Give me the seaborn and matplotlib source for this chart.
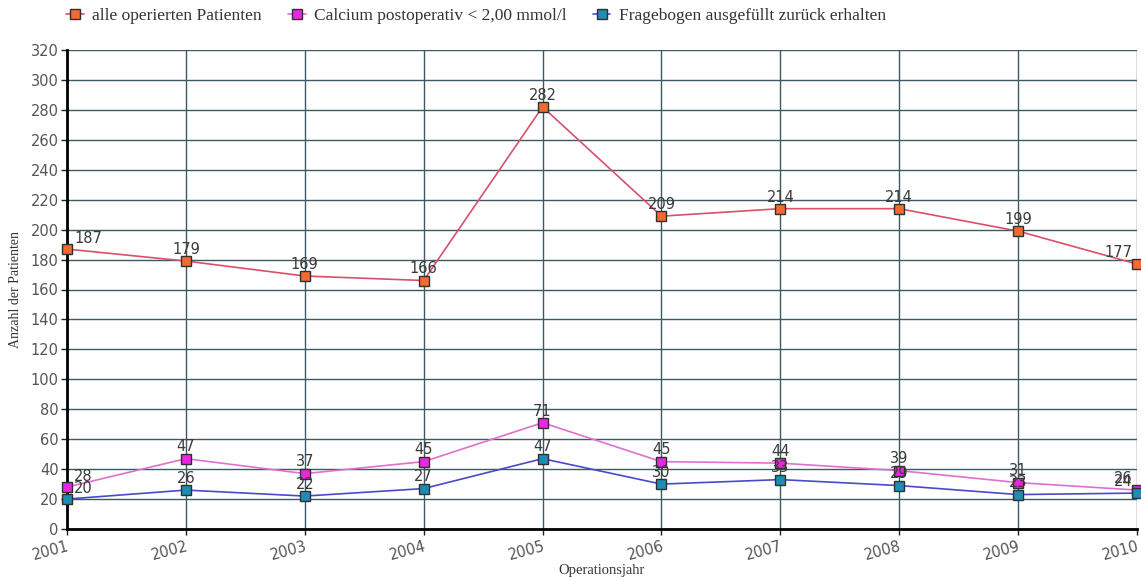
import matplotlib
matplotlib.use("Agg")
import matplotlib.pyplot as plt
import matplotlib.transforms as mtransforms
import seaborn as sns
import pandas as pd

years = [2001, 2002, 2003, 2004, 2005, 2006, 2007, 2008, 2009, 2010]
alle_operierten = [187, 179, 169, 166, 282, 209, 214, 214, 199, 177]
calcium_niedrig = [28, 47, 37, 45, 71, 45, 44, 39, 31, 26]
fragebogen = [20, 26, 22, 27, 47, 30, 33, 29, 23, 24]

series_names = [
    "alle operierten Patienten",
    "Calcium postoperativ < 2,00 mmol/l",
    "Fragebogen ausgefüllt zurück erhalten",
]
series_values = [alle_operierten, calcium_niedrig, fragebogen]
line_colors = ["#d8506a", "#e070d0", "#4a4ac8"]
marker_colors = ["#f06a32", "#e628e0", "#1e8cb4"]

sns.set_theme(style="white")
plt.rcParams["font.family"] = ["DejaVu Sans"]

fig = plt.figure(figsize=(11.41, 5.8), dpi=100)
ax = fig.add_axes([67 / 1141, 1 - 529 / 580, (1137 - 67) / 1141, (529 - 50) / 580])

for name, vals, lc, mc in zip(series_names, series_values, line_colors, marker_colors):
    df = pd.DataFrame({"Jahr": years, "Anzahl": vals})
    sns.lineplot(data=df, x="Jahr", y="Anzahl", ax=ax, color=lc, linewidth=1.2,
                 marker="s", markersize=7, markerfacecolor=mc,
                 markeredgecolor="#303030", markeredgewidth=1.0, label=name,
                 zorder=3, clip_on=False)

# value labels above each point
for vals in series_values:
    for x, v in zip(years, vals):
        if x == years[0]:
            xy, ha = (5, 2), "left"
        elif x == years[-1]:
            xy, ha = (-3, 3), "right"
        else:
            xy, ha = (0, 3), "center"
        ax.annotate(str(v), (x, v), xytext=xy, textcoords="offset points",
                    ha=ha, va="bottom", fontsize=10.5, color="#3a3a3a", zorder=4)

ax.set_xlim(years[0], years[-1])
ax.set_ylim(0, 320)
ax.set_yticks(range(0, 321, 20))
ax.set_xticks(years)
ax.set_xticklabels([str(y) for y in years], rotation=15, ha="right",
                   rotation_mode="anchor", fontsize=10.5, color="#555555")
offset = mtransforms.ScaledTranslation(6 / 72, 0, fig.dpi_scale_trans)
for lbl in ax.get_xticklabels():
    lbl.set_transform(lbl.get_transform() + offset)
ax.tick_params(axis="y", labelsize=10.5, labelcolor="#555555", length=4, width=1,
               color="#222222", left=True, pad=2)
ax.tick_params(axis="x", length=4, width=1, color="#222222", bottom=True, pad=3)

ax.grid(True, color="#3d5a64", linewidth=1.0)
ax.set_axisbelow(True)
for side in ["top", "right"]:
    ax.spines[side].set_visible(False)
ax.spines["left"].set_color("#000000")
ax.spines["left"].set_linewidth(2.0)
ax.spines["bottom"].set_color("#000000")
ax.spines["bottom"].set_linewidth(2.0)

ax.set_xlabel("Operationsjahr", family="Liberation Serif", fontsize=10.5, color="#333333", labelpad=1)
ax.set_ylabel("Anzahl der Patienten", family="Liberation Serif", fontsize=10, color="#333333", labelpad=6)

ax.legend(loc="lower left", bbox_to_anchor=(-0.007, 1.04), ncol=3, frameon=False,
          prop={"family": "Liberation Serif", "size": 12.5}, handlelength=1.0,
          columnspacing=1.5, handletextpad=0.5, borderaxespad=0)
for t in ax.get_legend().get_texts():
    t.set_color("#333333")

fig.savefig("out.png", dpi=100)
